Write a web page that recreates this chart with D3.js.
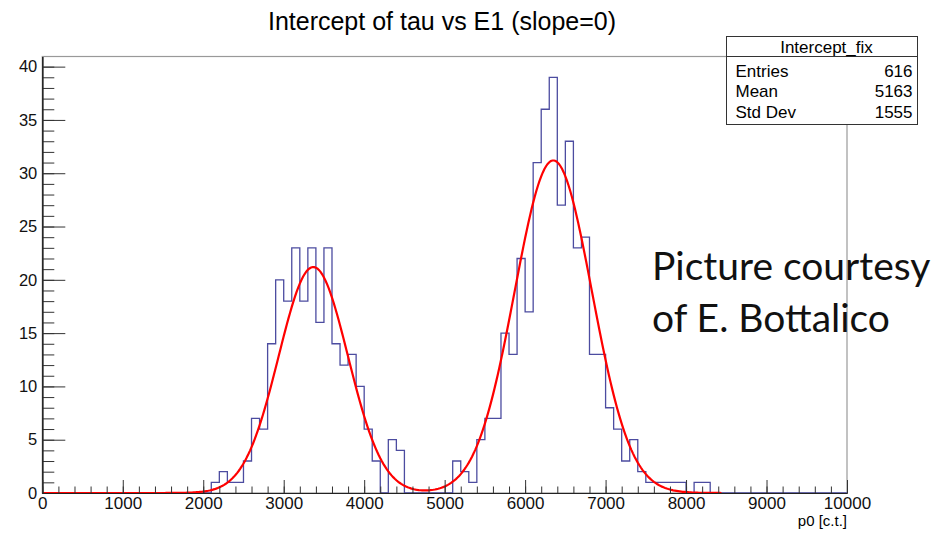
<!DOCTYPE html>
<html>
<head>
<meta charset="utf-8">
<script src="https://cdn.jsdelivr.net/npm/d3@7"></script>
<style>
  body { margin: 0; background: #fff; }
  text { font-family: "Liberation Sans", Arial, sans-serif; }
</style>
</head>
<body>
<div class="histo"></div>
<script>
// Histogram of the fitted intercept, 100 bins between 0 and 10000
var nBins = 100, xMin = 0, xMax = 10000;
var counts = [
  0, 0, 0, 0, 0, 0, 0, 0, 0, 0,
  0, 0, 0, 0, 0, 0, 0, 0, 0, 0,
  0, 1, 2, 1, 1, 3, 7, 6, 14, 20,
  18, 23, 18, 23, 16, 23, 14, 12, 13, 10,
  6, 3, 0, 5, 4, 0, 0, 0, 0, 0,
  0, 3, 2, 1, 5, 7, 7, 15, 13, 22,
  17, 31, 36, 39, 27, 33, 23, 24, 13, 13,
  8, 6, 3, 5, 2, 1, 1, 1, 1, 1,
  0, 1, 1, 0, 0, 0, 0, 0, 0, 0,
  0, 0, 0, 0, 0, 0, 0, 0, 0, 0
];

// double gaussian fit (constant, mean, sigma of each peak)
var fitConstant = [21.2, 31.2];
var fitMean = [3368, 6350];
var fitSigma = [430, 480];
var fitRange = [0, 8450];

// stats box
var statTitle = "Intercept_fix";
var statLabels = ["Entries", "Mean", "Std Dev"];
var statValues = ["616", "5163", "1555"];

var xTicks = d3.range(0, 10001, 1000);
var xMinorTicks = d3.range(0, 10001, 200);
var yTicks = d3.range(0, 41, 5);
var yMinorTicks = d3.range(0, 41, 1);

var margin = {top: 56.5, right: 91, bottom: 40, left: 42.3},
    width = 938 - margin.left - margin.right,
    height = 533 - margin.top - margin.bottom;

var x = d3.scaleLinear().domain([xMin, xMax]).range([0, width]);
var y = d3.scaleLinear().domain([0, 1.05 * d3.max(counts)]).range([height, 0]);

var root = d3.select(".histo")
    .append("svg")
    .attr("width", 938)
    .attr("height", 533);

var svg = root.append("g")
    .attr("transform", "translate(" + margin.left + "," + margin.top + ")");

// frame
svg.append("rect")
    .attr("width", width)
    .attr("height", height)
    .attr("fill", "none")
    .attr("stroke", "#999")
    .attr("stroke-width", 1.2);

// histogram outline as steps
var binW = (xMax - xMin) / nBins;
var steps = [[xMin, 0]];
counts.forEach(function(c, i) {
  steps.push([xMin + i * binW, c]);
  steps.push([xMin + (i + 1) * binW, c]);
});
steps.push([xMax, 0]);

svg.append("path")
    .datum(steps)
    .attr("fill", "none")
    .attr("stroke", "#4c4ca0")
    .attr("stroke-width", 1.3)
    .attr("d", d3.line()
      .x(function(d) { return x(d[0]); })
      .y(function(d) { return y(d[1]); }));

// fit curve
function fitValue(v) {
  var s = 0;
  for (var k = 0; k < fitConstant.length; k++) {
    s += fitConstant[k] * Math.exp(-0.5 * Math.pow((v - fitMean[k]) / fitSigma[k], 2));
  }
  return s;
}
var fitPts = d3.range(fitRange[0], fitRange[1] + 1, 20);

svg.append("path")
    .datum(fitPts)
    .attr("fill", "none")
    .attr("stroke", "#f00")
    .attr("stroke-width", 2.2)
    .attr("d", d3.line()
      .x(function(d) { return x(d); })
      .y(function(d) { return y(fitValue(d)); }));

// y axis, ticks pointing into the frame
svg.append("g")
    .attr("class", "y minor")
    .call(d3.axisLeft(y).tickValues(yMinorTicks).tickSize(-12).tickSizeOuter(0).tickFormat(""));
svg.append("g")
    .attr("class", "y axis")
    .call(d3.axisLeft(y).tickValues(yTicks).tickSize(-23).tickSizeOuter(0).tickPadding(5));

// x axis
svg.append("g")
    .attr("class", "x minor")
    .attr("transform", "translate(0," + height + ")")
    .call(d3.axisBottom(x).tickValues(xMinorTicks).tickSize(-6.5).tickSizeOuter(0).tickFormat(""));
svg.append("g")
    .attr("class", "x axis")
    .attr("transform", "translate(0," + height + ")")
    .call(d3.axisBottom(x).tickValues(xTicks).tickSize(-13).tickSizeOuter(0).tickPadding(4)
      .tickFormat(d3.format("d")));

svg.selectAll(".tick line").attr("stroke", "#333");
svg.selectAll(".domain").attr("stroke", "#222").attr("stroke-width", 1.2);
svg.selectAll(".axis text")
    .attr("fill", "#111")
    .style("font-size", "16.5px")
    .style("font-family", "Liberation Sans, Arial, sans-serif");
svg.selectAll(".x.axis text").style("font-size", "17px");

// axis title
svg.append("text")
    .attr("x", width)
    .attr("y", height + 33)
    .attr("text-anchor", "end")
    .style("font-size", "15px")
    .text("p0 [c.t.]");

// title
root.append("text")
    .attr("x", 442)
    .attr("y", 30)
    .attr("text-anchor", "middle")
    .style("font-size", "25px")
    .text("Intercept of tau vs E1 (slope=0)");

// stats box
var box = root.append("g").attr("transform", "translate(726.5,36.5)");
box.append("rect")
    .attr("width", 191)
    .attr("height", 88)
    .attr("fill", "#fff")
    .attr("stroke", "#333");
box.append("line")
    .attr("x1", 0).attr("x2", 191)
    .attr("y1", 20).attr("y2", 20)
    .attr("stroke", "#333");
box.append("text")
    .attr("x", 100)
    .attr("y", 16)
    .attr("text-anchor", "middle")
    .style("font-size", "17px")
    .text(statTitle);
statLabels.forEach(function(lab, i) {
  box.append("text")
      .attr("x", 9)
      .attr("y", 40 + i * 20.7)
      .style("font-size", "17px")
      .text(lab);
  box.append("text")
      .attr("x", 186)
      .attr("y", 40 + i * 20.7)
      .attr("text-anchor", "end")
      .style("font-size", "17px")
      .text(statValues[i]);
});

// courtesy note
var note = root.append("text")
    .style("font-family", "Lato, 'Open Sans', sans-serif")
    .style("font-size", "39px")
    .attr("fill", "#111");
note.append("tspan").attr("x", 652).attr("y", 280).text("Picture courtesy");
note.append("tspan").attr("x", 652).attr("y", 332).text("of E. Bottalico");
</script>
</body>
</html>
